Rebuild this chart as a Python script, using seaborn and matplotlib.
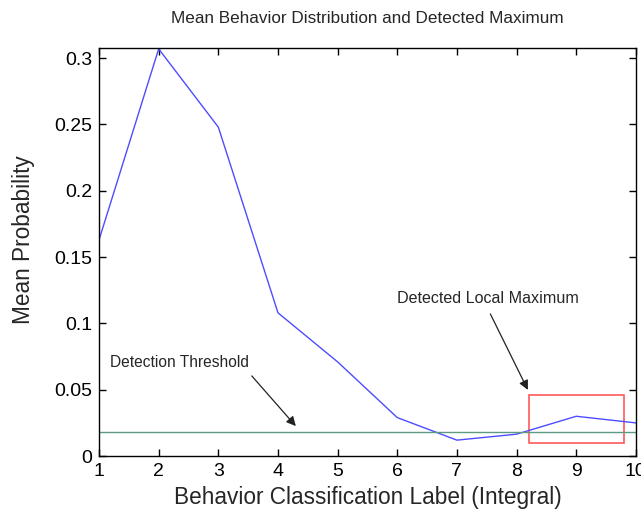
import matplotlib
matplotlib.use("Agg")
import matplotlib.pyplot as plt
import matplotlib.font_manager as fm
import seaborn as sns
import pandas as pd
from matplotlib.patches import Rectangle

labels = [1, 2, 3, 4, 5, 6, 7, 8, 9, 10]
mean_prob = [0.163, 0.307, 0.248, 0.108, 0.071, 0.029, 0.012, 0.0165, 0.030, 0.025]
threshold = 0.018
yticks = [0, 0.05, 0.1, 0.15, 0.2, 0.25, 0.3]
ytick_labels = ["0", "0.05", "0.1", "0.15", "0.2", "0.25", "0.3"]

sns.set_style("white")
names = {f.name for f in fm.fontManager.ttflist}
fam = ["Liberation Sans Narrow", "DejaVu Sans"] if "Liberation Sans Narrow" in names else ["Liberation Sans", "DejaVu Sans"]
plt.rcParams["font.family"] = fam

df = pd.DataFrame({"label": labels, "prob": mean_prob})

fig = plt.figure(figsize=(6.41, 5.13), dpi=100)
ax = fig.add_axes([0.1545, 0.111, 0.8375, 0.795])
sns.lineplot(data=df, x="label", y="prob", ax=ax, color="#4d4dff", linewidth=1.0)
ax.axhline(threshold, color="#5e9a80", linewidth=1.0)
ax.add_patch(Rectangle((8.2, 0.010), 1.6, 0.036, fill=False, edgecolor="#ff5a5a", linewidth=1.2))

ax.set_xlim(1, 10)
ax.set_ylim(0, 0.3075)
ax.set_xticks(labels)
ax.set_xticklabels([str(v) for v in labels])
ax.set_yticks(yticks)
ax.set_yticklabels(ytick_labels)
ax.tick_params(direction="in", length=5, width=1, labelsize=14, pad=5, top=True, right=True,
               bottom=True, left=True, colors="black")
for s in ax.spines.values():
    s.set_visible(True)
    s.set_color("black")
    s.set_linewidth(1.0)

ax.set_xlabel("Behavior Classification Label (Integral)", fontsize=16.3, labelpad=4)
ax.set_ylabel("Mean Probability", fontsize=16.3)
ax.yaxis.set_label_coords(-0.12, 0.53)
ax.set_title("Mean Behavior Distribution and Detected Maximum", fontsize=12.3, pad=18)

arrowprops = dict(arrowstyle="-|>", color="#222222", lw=0.9, mutation_scale=14)
ax.annotate("Detection Threshold", xy=(4.33, 0.021), xytext=(1.19, 0.0705),
            fontsize=11.2, va="center", ha="left")
ax.annotate("", xy=(4.33, 0.021), xytext=(3.53, 0.062), arrowprops=arrowprops)
ax.annotate("Detected Local Maximum", xy=(8.21, 0.048), xytext=(6.0, 0.119),
            fontsize=11.6, va="center", ha="left")
ax.annotate("", xy=(8.21, 0.048), xytext=(7.54, 0.109), arrowprops=arrowprops)

fig.savefig("out.png", dpi=100)
